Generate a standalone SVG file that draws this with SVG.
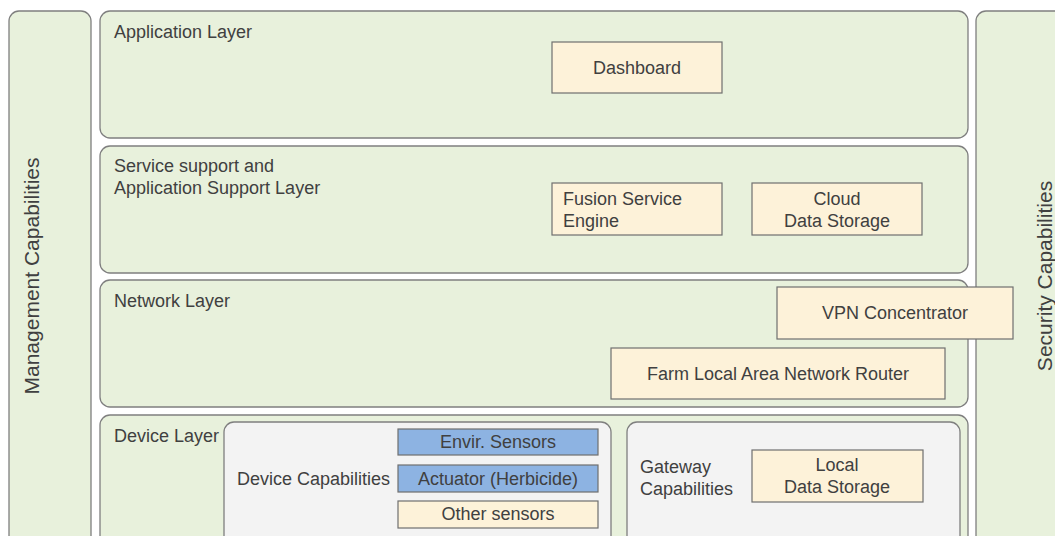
<svg xmlns="http://www.w3.org/2000/svg" width="1055" height="536" viewBox="0 0 1055 536">
<style>
.lay{fill:#e8f1dc;stroke:#7f7f7f;stroke-width:1.3}
.cap{fill:#f3f3f3;stroke:#7f7f7f;stroke-width:1.3}
.box{fill:#fdf2d9;stroke:#6f6f6f;stroke-width:1.2}
.blue{fill:#8db3e2;stroke:#6f6f6f;stroke-width:1.2}
text{font-family:"Liberation Sans",Arial,sans-serif;font-size:18px;fill:#404040}
.c{text-anchor:middle}
.big{font-size:21px}
</style>
<rect width="1055" height="536" fill="#ffffff"/>
<g id="management"><rect class="lay" x="9" y="11" width="82" height="545" rx="10"/><text class="c big" transform="translate(39,276) rotate(-90)">Management Capabilities</text></g>
<g id="security"><rect class="lay" x="976" y="11" width="100" height="545" rx="10"/><text class="c big" transform="translate(1052,276) rotate(-90)">Security Capabilities</text></g>
<g id="application-layer"><rect class="lay" x="100" y="11" width="868" height="127" rx="10"/><text x="114" y="38">Application Layer</text></g>
<g id="service-layer"><rect class="lay" x="100" y="146" width="868" height="127" rx="10"/><text x="114" y="172">Service support and</text><text x="114" y="194">Application Support Layer</text></g>
<g id="network-layer"><rect class="lay" x="100" y="280" width="868" height="127" rx="10"/><text x="114" y="307">Network Layer</text></g>
<g id="device-layer"><rect class="lay" x="100" y="415" width="868" height="140" rx="10"/><text x="114" y="442">Device Layer</text></g>
<g id="dashboard"><rect class="box" x="552" y="42" width="170" height="51"/><text class="c" x="637" y="74">Dashboard</text></g>
<g id="fusion"><rect class="box" x="552" y="183" width="170" height="52"/><text x="563" y="205">Fusion Service</text><text x="563" y="227">Engine</text></g>
<g id="cloud"><rect class="box" x="752" y="183" width="170" height="52"/><text class="c" x="837" y="205">Cloud</text><text class="c" x="837" y="227">Data Storage</text></g>
<g id="vpn"><rect class="box" x="777" y="287" width="236" height="52"/><text class="c" x="895" y="319">VPN Concentrator</text></g>
<g id="router"><rect class="box" x="611" y="348" width="334" height="51"/><text class="c" x="778" y="380">Farm Local Area Network Router</text></g>
<g id="device-capabilities"><rect class="cap" x="224" y="422" width="387" height="125" rx="10"/><text x="237" y="485">Device Capabilities</text></g>
<g id="envir"><rect class="blue" x="398" y="429" width="200" height="26"/><text class="c" x="498" y="448">Envir. Sensors</text></g>
<g id="actuator"><rect class="blue" x="398" y="465" width="200" height="27"/><text class="c" x="498" y="485">Actuator (Herbicide)</text></g>
<g id="other"><rect class="box" x="398" y="501" width="200" height="27"/><text class="c" x="498" y="520">Other sensors</text></g>
<g id="gateway-capabilities"><rect class="cap" x="627" y="422" width="333" height="125" rx="10"/><text x="640" y="473">Gateway</text><text x="640" y="495">Capabilities</text></g>
<g id="local"><rect class="box" x="752" y="450" width="171" height="52"/><text class="c" x="837" y="471">Local</text><text class="c" x="837" y="493">Data Storage</text></g>
<g id="connectors"></g>
</svg>
